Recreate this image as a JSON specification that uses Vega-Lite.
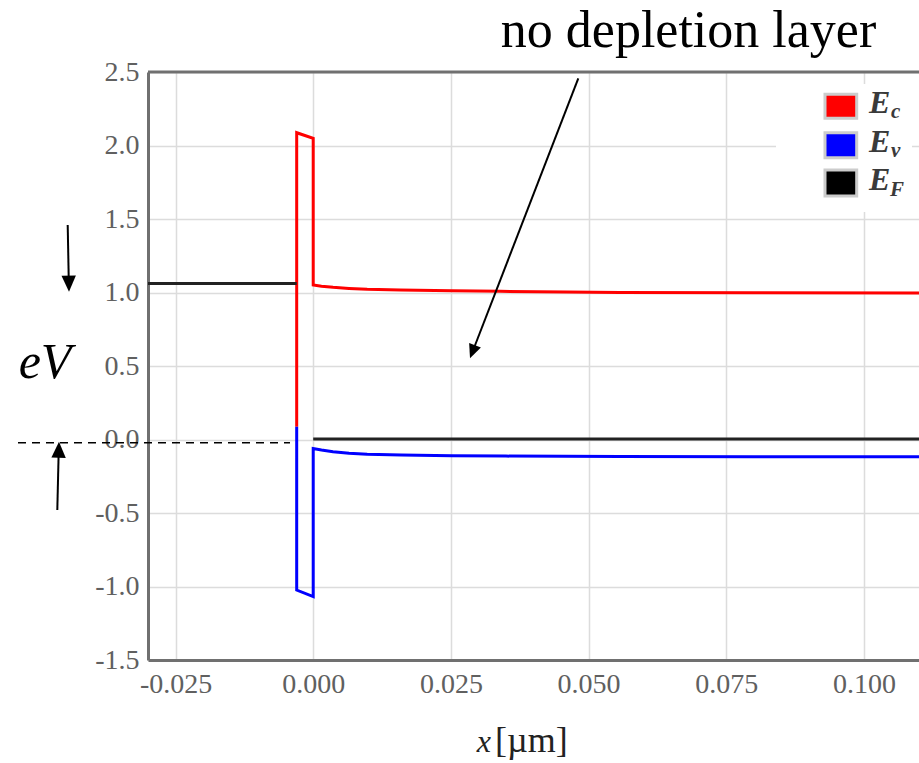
{
  "$schema": "https://vega.github.io/schema/vega-lite/v6.json",
  "width": 771,
  "height": 588,
  "autosize": {"type": "none"},
  "padding": {"left": 148, "top": 72, "right": 0, "bottom": 103},
  "background": "white",
  "config": {
    "view": {"stroke": null},
    "locale": {"number": {"decimal": ".", "thousands": ",", "grouping": [3], "currency": ["$", ""], "minus": "-"}},
    "axis": {"grid": true, "gridColor": "#dcdcdc", "gridWidth": 1.5, "domainColor": "#707070", "domainWidth": 3, "ticks": false, "labelFont": "Liberation Serif", "labelFontSize": 28, "labelColor": "#606060"}
  },
  "layer": [
    {
      "data": {"values": [
        {"band": "Ec", "seg": "Ec", "i": 0, "x": -0.003, "y": 0.087},
        {"band": "Ec", "seg": "Ec", "i": 1, "x": -0.003, "y": 2.087},
        {"band": "Ec", "seg": "Ec", "i": 2, "x": 0.0, "y": 2.049},
        {"band": "Ec", "seg": "Ec", "i": 3, "x": 0.0, "y": 1.051},
        {"band": "Ec", "seg": "Ec", "i": 4, "x": 0.0015, "y": 1.043},
        {"band": "Ec", "seg": "Ec", "i": 5, "x": 0.0036, "y": 1.035},
        {"band": "Ec", "seg": "Ec", "i": 6, "x": 0.0065, "y": 1.028},
        {"band": "Ec", "seg": "Ec", "i": 7, "x": 0.0098, "y": 1.022},
        {"band": "Ec", "seg": "Ec", "i": 8, "x": 0.0158, "y": 1.017},
        {"band": "Ec", "seg": "Ec", "i": 9, "x": 0.0252, "y": 1.012},
        {"band": "Ec", "seg": "Ec", "i": 10, "x": 0.034, "y": 1.008},
        {"band": "Ec", "seg": "Ec", "i": 11, "x": 0.046, "y": 1.003},
        {"band": "Ec", "seg": "Ec", "i": 12, "x": 0.0557, "y": 1.0},
        {"band": "Ec", "seg": "Ec", "i": 13, "x": 0.08, "y": 0.998},
        {"band": "Ec", "seg": "Ec", "i": 14, "x": 0.11, "y": 0.997},
        {"band": "Ev", "seg": "Ev", "i": 0, "x": -0.003, "y": 0.087},
        {"band": "Ev", "seg": "Ev", "i": 1, "x": -0.003, "y": -1.024},
        {"band": "Ev", "seg": "Ev", "i": 2, "x": 0.0, "y": -1.069},
        {"band": "Ev", "seg": "Ev", "i": 3, "x": 0.0, "y": -0.062},
        {"band": "Ev", "seg": "Ev", "i": 4, "x": 0.0015, "y": -0.072},
        {"band": "Ev", "seg": "Ev", "i": 5, "x": 0.0036, "y": -0.083},
        {"band": "Ev", "seg": "Ev", "i": 6, "x": 0.0065, "y": -0.093},
        {"band": "Ev", "seg": "Ev", "i": 7, "x": 0.0098, "y": -0.1},
        {"band": "Ev", "seg": "Ev", "i": 8, "x": 0.016, "y": -0.105},
        {"band": "Ev", "seg": "Ev", "i": 9, "x": 0.0252, "y": -0.11},
        {"band": "Ev", "seg": "Ev", "i": 10, "x": 0.035, "y": -0.113},
        {"band": "Ev", "seg": "Ev", "i": 11, "x": 0.0557, "y": -0.116},
        {"band": "Ev", "seg": "Ev", "i": 12, "x": 0.08, "y": -0.117},
        {"band": "Ev", "seg": "Ev", "i": 13, "x": 0.11, "y": -0.118},
        {"band": "EF", "seg": "EFL", "i": 0, "x": -0.03, "y": 1.062},
        {"band": "EF", "seg": "EFL", "i": 1, "x": -0.003, "y": 1.062},
        {"band": "EF", "seg": "EFR", "i": 0, "x": 0.0, "y": 0.003},
        {"band": "EF", "seg": "EFR", "i": 1, "x": 0.11, "y": 0.003}
      ]},
      "mark": {"type": "line", "strokeWidth": 3, "strokeJoin": "miter"},
      "encoding": {
        "x": {"field": "x", "type": "quantitative", "scale": {"domain": [-0.03, 0.11], "nice": false, "zero": false},
              "axis": {"values": [-0.025, 0, 0.025, 0.05, 0.075, 0.1], "format": ".3f", "title": null, "labelPadding": 10}},
        "y": {"field": "y", "type": "quantitative", "scale": {"domain": [-1.5, 2.5], "nice": false, "zero": false},
              "axis": {"values": [-1.5, -1, -0.5, 0, 0.5, 1, 1.5, 2, 2.5], "format": ".1f", "title": null, "labelPadding": 9}},
        "color": {"field": "band", "type": "nominal", "scale": {"domain": ["Ec", "Ev", "EF"], "range": ["#ff0000", "#0000ff", "#222222"]}, "legend": null},
        "detail": {"field": "seg"},
        "order": {"field": "i", "type": "quantitative"}
      }
    },
    {
      "data": {"values": [{}]},
      "mark": {"type": "rect", "color": "white", "opacity": 1},
      "encoding": {
        "x": {"datum": 0.084034, "type": "quantitative"},
        "x2": {"datum": 0.108729},
        "y": {"datum": 2.4184, "type": "quantitative"},
        "y2": {"datum": 1.5476}
      }
    },
    {
      "data": {"values": [{}]},
      "mark": {"type": "rule", "color": "#707070", "strokeWidth": 3},
      "encoding": {
        "x": {"datum": -0.03, "type": "quantitative"},
        "x2": {"datum": 0.11},
        "y": {"datum": 2.5, "type": "quantitative"}
      }
    },
    {
      "data": {"values": [{}]},
      "mark": {"type": "rule", "color": "black", "strokeWidth": 1.5, "strokeDash": [8, 6]},
      "encoding": {
        "x": {"datum": -0.053606, "type": "quantitative"},
        "x2": {"datum": -0.004215},
        "y": {"datum": -0.0218, "type": "quantitative"}
      }
    },
    {
      "data": {"values": [{}]},
      "mark": {"type": "rule", "color": "black", "strokeWidth": 2},
      "encoding": {
        "x": {"datum": -0.04647, "type": "quantitative"},
        "x2": {"datum": -0.04622},
        "y": {"datum": -0.4796, "type": "quantitative"},
        "y2": {"datum": -0.085}
      }
    },
    {
      "data": {"values": [{}]},
      "mark": {"type": "point", "filled": true, "color": "black", "opacity": 1, "size": 256, "angle": 181.4, "shape": "M0,0L-0.9,-2L0.9,-2Z"},
      "encoding": {
        "x": {"datum": -0.046161, "type": "quantitative"},
        "y": {"datum": -0.015, "type": "quantitative"}
      }
    },
    {
      "data": {"values": [{}]},
      "mark": {"type": "rule", "color": "black", "strokeWidth": 2},
      "encoding": {
        "x": {"datum": -0.044581, "type": "quantitative"},
        "x2": {"datum": -0.04439},
        "y": {"datum": 1.4592, "type": "quantitative"},
        "y2": {"datum": 1.085}
      }
    },
    {
      "data": {"values": [{}]},
      "mark": {"type": "point", "filled": true, "color": "black", "opacity": 1, "size": 256, "angle": -1.1, "shape": "M0,0L-0.9,-2L0.9,-2Z"},
      "encoding": {
        "x": {"datum": -0.044345, "type": "quantitative"},
        "y": {"datum": 1.0054, "type": "quantitative"}
      }
    },
    {
      "data": {"values": [{}]},
      "mark": {"type": "rule", "color": "black", "strokeWidth": 2},
      "encoding": {
        "x": {"datum": 0.048134, "type": "quantitative"},
        "x2": {"datum": 0.029123},
        "y": {"datum": 2.457, "type": "quantitative"},
        "y2": {"datum": 0.6156}
      }
    },
    {
      "data": {"values": [{}]},
      "mark": {"type": "point", "filled": true, "color": "black", "opacity": 1, "size": 196, "angle": 21.1, "shape": "M0,0L-0.9,-2L0.9,-2Z"},
      "encoding": {
        "x": {"datum": 0.028469, "type": "quantitative"},
        "y": {"datum": 0.5524, "type": "quantitative"}
      }
    },
    {
      "data": {"values": [{}]},
      "mark": {"type": "text", "text": "no depletion layer", "font": "Liberation Serif", "fontSize": 52, "align": "center", "baseline": "alphabetic", "color": "black"},
      "encoding": {
        "x": {"datum": 0.06815, "type": "quantitative"},
        "y": {"datum": 2.67, "type": "quantitative"}
      }
    },
    {
      "data": {"values": [{}]},
      "mark": {"type": "text", "text": "eV", "font": "Liberation Serif", "fontStyle": "italic", "fontSize": 50, "align": "center", "baseline": "alphabetic", "color": "black"},
      "encoding": {
        "x": {"datum": -0.0487, "type": "quantitative"},
        "y": {"datum": 0.418, "type": "quantitative"}
      }
    },
    {
      "data": {"values": [{}]},
      "mark": {"type": "text", "text": "x", "font": "Liberation Serif", "fontStyle": "italic", "fontSize": 32, "align": "right", "baseline": "alphabetic", "color": "#222222"},
      "encoding": {
        "x": {"datum": 0.03228, "type": "quantitative"},
        "y": {"datum": -2.126, "type": "quantitative"}
      }
    },
    {
      "data": {"values": [{}]},
      "mark": {"type": "text", "text": "[µm]", "font": "Liberation Serif", "fontSize": 36, "align": "left", "baseline": "alphabetic", "color": "#222222"},
      "encoding": {
        "x": {"datum": 0.03301, "type": "quantitative"},
        "y": {"datum": -2.126, "type": "quantitative"}
      }
    },
    {
      "data": {"values": [{}]},
      "mark": {"type": "rect", "color": "#ff0000", "stroke": "#cccccc", "strokeWidth": 3, "opacity": 1},
      "encoding": {
        "x": {"datum": 0.092931, "type": "quantitative"},
        "x2": {"datum": 0.098687},
        "y": {"datum": 2.3483, "type": "quantitative"},
        "y2": {"datum": 2.185}
      }
    },
    {
      "data": {"values": [{}]},
      "mark": {"type": "rect", "color": "#0000ff", "stroke": "#cccccc", "strokeWidth": 3, "opacity": 1},
      "encoding": {
        "x": {"datum": 0.092931, "type": "quantitative"},
        "x2": {"datum": 0.098687},
        "y": {"datum": 2.0871, "type": "quantitative"},
        "y2": {"datum": 1.917}
      }
    },
    {
      "data": {"values": [{}]},
      "mark": {"type": "rect", "color": "#000000", "stroke": "#cccccc", "strokeWidth": 3, "opacity": 1},
      "encoding": {
        "x": {"datum": 0.092931, "type": "quantitative"},
        "x2": {"datum": 0.098687},
        "y": {"datum": 1.8333, "type": "quantitative"},
        "y2": {"datum": 1.6565}
      }
    },
    {
      "data": {"values": [{}]},
      "mark": {"type": "text", "text": "E", "font": "Liberation Serif", "fontStyle": "italic", "fontWeight": "bold", "fontSize": 32, "align": "left", "baseline": "alphabetic", "color": "#3a3a3a"},
      "encoding": {
        "x": {"datum": 0.100921, "type": "quantitative"},
        "y": {"datum": 2.2177, "type": "quantitative"}
      }
    },
    {
      "data": {"values": [{}]},
      "mark": {"type": "text", "text": "c", "font": "Liberation Serif", "fontStyle": "italic", "fontWeight": "bold", "fontSize": 21, "align": "left", "baseline": "alphabetic", "color": "#3a3a3a"},
      "encoding": {
        "x": {"datum": 0.104915, "type": "quantitative"},
        "y": {"datum": 2.185, "type": "quantitative"}
      }
    },
    {
      "data": {"values": [{}]},
      "mark": {"type": "text", "text": "E", "font": "Liberation Serif", "fontStyle": "italic", "fontWeight": "bold", "fontSize": 32, "align": "left", "baseline": "alphabetic", "color": "#3a3a3a"},
      "encoding": {
        "x": {"datum": 0.100921, "type": "quantitative"},
        "y": {"datum": 1.9558, "type": "quantitative"}
      }
    },
    {
      "data": {"values": [{}]},
      "mark": {"type": "text", "text": "v", "font": "Liberation Serif", "fontStyle": "italic", "fontWeight": "bold", "fontSize": 21, "align": "left", "baseline": "alphabetic", "color": "#3a3a3a"},
      "encoding": {
        "x": {"datum": 0.104915, "type": "quantitative"},
        "y": {"datum": 1.9218, "type": "quantitative"}
      }
    },
    {
      "data": {"values": [{}]},
      "mark": {"type": "text", "text": "E", "font": "Liberation Serif", "fontStyle": "italic", "fontWeight": "bold", "fontSize": 32, "align": "left", "baseline": "alphabetic", "color": "#3a3a3a"},
      "encoding": {
        "x": {"datum": 0.100921, "type": "quantitative"},
        "y": {"datum": 1.6973, "type": "quantitative"}
      }
    },
    {
      "data": {"values": [{}]},
      "mark": {"type": "text", "text": "F", "font": "Liberation Serif", "fontStyle": "italic", "fontWeight": "bold", "fontSize": 21, "align": "left", "baseline": "alphabetic", "color": "#3a3a3a"},
      "encoding": {
        "x": {"datum": 0.104733, "type": "quantitative"},
        "y": {"datum": 1.6531, "type": "quantitative"}
      }
    }
  ]
}
